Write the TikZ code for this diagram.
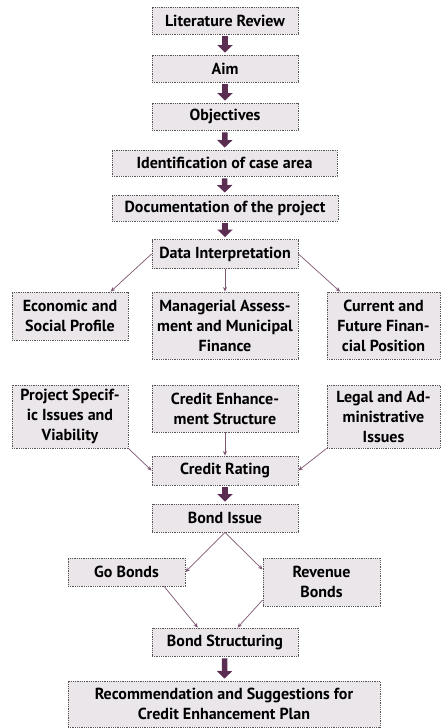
\documentclass[tikz,border=0pt]{standalone}
\usepackage{fontspec}
\setmainfont{PT Sans}
\usetikzlibrary{arrows.meta}
\definecolor{boxfill}{HTML}{EAE6EA}
\definecolor{boxline}{HTML}{555555}
\definecolor{plum}{HTML}{5C2D52}
\definecolor{plumlight}{HTML}{7E5673}
\tikzset{
	box/.style={draw=boxline, fill=boxfill, line width=0.9pt, dash pattern=on 0.9pt off 0.9pt,
		align=center, inner sep=0pt, font=\fontsize{16}{20}\selectfont\bfseries},
	bigarrow/.style={draw=plum, line width=5.5pt, -{Triangle[width=15pt,length=7.5pt]},
		shorten <=2pt, shorten >=2pt},
	link/.style={draw=plumlight, line width=0.7pt, -{Stealth[width=4pt,length=4.5pt]}}
}

\begin{document}
\begin{tikzpicture}[x=1pt, y=-1pt]
			%%%%% START %%%%%
			\useasboundingbox (0,0) rectangle (440,728);
			
			\node[box, minimum width=146pt, minimum height=27pt] (litrev) at (225, 20.5) {Literature Review};
			\node[box, minimum width=146pt, minimum height=27pt] (aim) at (225, 68.5) {Aim};
			\node[box, minimum width=146pt, minimum height=27pt] (objectives) at (225, 116.5) {Objectives};
			\node[box, minimum width=225pt, minimum height=26pt] (casearea) at (224.5, 163) {Identification of case area};
			\node[box, minimum width=226pt, minimum height=26pt] (docu) at (225, 208) {Documentation of the project};
			\node[box, minimum width=146pt, minimum height=29pt] (datainterp) at (225, 254) {Data Interpretation};
			
			\node[box, minimum width=116pt, minimum height=48pt] (econ) at (70, 316) {Economic and\\Social Profile};
			\node[box, minimum width=146pt, minimum height=67pt] (manag) at (225, 325.5) {Managerial Assess-\\ment and Municipal\\Finance};
			\node[box, minimum width=113pt, minimum height=67pt] (finpos) at (383.5, 325.5) {Current and\\Future Finan-\\cial Position};
			
			\node[box, minimum width=116pt, minimum height=63pt] (projspec) at (70, 416.5) {Project Specif-\\ic Issues and\\Viability};
			\node[box, minimum width=146pt, minimum height=47pt] (credenh) at (225, 408.5) {Credit Enhance-\\ment Structure};
			\node[box, minimum width=113pt, minimum height=63pt] (legal) at (383.5, 416.5) {Legal and Ad-\\ministrative\\Issues};
			
			\node[box, minimum width=146pt, minimum height=29pt] (rating) at (225, 470.5) {Credit Rating};
			\node[box, minimum width=146pt, minimum height=28pt] (bondissue) at (225, 518) {Bond Issue};
			\node[box, minimum width=117pt, minimum height=28pt] (gobonds) at (126.5, 572) {Go Bonds};
			\node[box, minimum width=117pt, minimum height=48pt] (revbonds) at (321.5, 582) {Revenue\\Bonds};
			\node[box, minimum width=146pt, minimum height=28pt] (bondstruct) at (225, 642) {Bond Structuring};
			\node[box, minimum width=312pt, minimum height=46pt] (recomm) at (224, 704) {Recommendation and Suggestions for\\Credit Enhancement Plan};
			
			\draw[bigarrow] (litrev) -- (aim);
			\draw[bigarrow] (aim) -- (objectives);
			\draw[bigarrow] (objectives) -- (casearea);
			\draw[bigarrow] (casearea) -- (docu);
			\draw[bigarrow] (docu) -- (datainterp);
			
			\draw[link] (datainterp.west) -- (econ.31);
			\draw[link] (datainterp.south) -- (manag.north);
			\draw[link] (datainterp.east) -- (finpos.142);
			
			\draw[link] (projspec.south east) -- (rating.west);
			\draw[link] (credenh.south) -- (rating.north);
			\draw[link] (legal.south west) -- (rating.east);
			
			\draw[bigarrow] (rating) -- (bondissue);
			
			\draw[link] (bondissue.south) -- (gobonds.east);
			\draw[link] (bondissue.south) -- (revbonds.168);
			\draw[link] (gobonds.-21.5) -- (bondstruct.152);
			\draw[link] (revbonds.197) -- (bondstruct.49);
			
			\draw[bigarrow] (bondstruct) -- (recomm);
			
			%%%%% END %%%%%
		\end{tikzpicture}
\end{document}
